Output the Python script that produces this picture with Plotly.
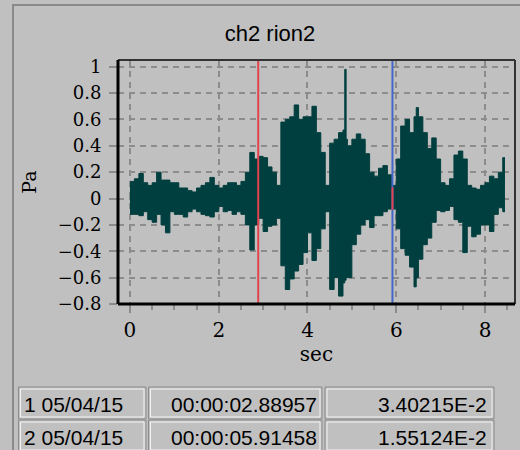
import plotly.graph_objects as go

# ---- data ----
t = [0.0, 0.1, 0.2, 0.3, 0.4, 0.5, 0.6, 0.7, 0.8, 0.9,
     1.0, 1.1, 1.2, 1.3, 1.4, 1.5, 1.6, 1.7, 1.8, 1.9,
     2.0, 2.1, 2.2, 2.3, 2.4, 2.5, 2.6, 2.7, 2.8, 2.9,
     3.0, 3.1, 3.2, 3.3, 3.4, 3.5, 3.6, 3.7, 3.8, 3.9,
     4.0, 4.1, 4.2, 4.3, 4.4, 4.5, 4.6, 4.7, 4.8, 4.84, 4.87,
     4.9, 5.0, 5.1, 5.2, 5.3, 5.4, 5.5, 5.6, 5.7, 5.8, 5.9,
     6.0, 6.1, 6.2, 6.3, 6.4, 6.45,
     6.5, 6.6, 6.7, 6.8, 6.9, 7.0, 7.1, 7.2, 7.3, 7.4, 7.5,
     7.6, 7.7, 7.8, 7.9, 8.0, 8.1, 8.2, 8.3, 8.4, 8.45]

upper = [0.13, 0.15, 0.19, 0.12, 0.10, 0.12, 0.20, 0.14, 0.14, 0.12,
         0.12, 0.08, 0.08, 0.06, 0.05, 0.08, 0.10, 0.12, 0.16, 0.10,
         0.08, 0.10, 0.12, 0.12, 0.10, 0.13, 0.20, 0.35, 0.30, 0.32,
         0.31, 0.24, 0.20, 0.10, 0.58, 0.60, 0.62, 0.71, 0.60, 0.62,
         0.62, 0.70, 0.50, 0.35, 0.10, 0.42, 0.45, 0.50, 0.52, 0.98, 0.45,
         0.40, 0.45, 0.49, 0.45, 0.34, 0.20, 0.17, 0.23, 0.25, 0.18, 0.10,
         0.30, 0.55, 0.60, 0.50, 0.62, 0.69,
         0.62, 0.50, 0.38, 0.46, 0.30, 0.12, 0.10, 0.15, 0.33, 0.36, 0.30,
         0.10, 0.08, 0.07, 0.10, 0.12, 0.17, 0.15, 0.20, 0.31, 0.31]

lower = [-0.12, -0.12, -0.13, -0.10, -0.16, -0.18, -0.12, -0.20, -0.26, -0.10,
         -0.12, -0.12, -0.14, -0.10, -0.08, -0.10, -0.12, -0.13, -0.14, -0.10,
         -0.06, -0.10, -0.09, -0.12, -0.10, -0.12, -0.20, -0.39, -0.20, -0.15,
         -0.25, -0.21, -0.20, -0.15, -0.51, -0.69, -0.61, -0.55, -0.50, -0.41,
         -0.26, -0.47, -0.38, -0.23, -0.10, -0.69, -0.60, -0.74, -0.64, -0.62, -0.60,
         -0.60, -0.35, -0.27, -0.20, -0.16, -0.22, -0.13, -0.13, -0.10, -0.08, -0.08,
         -0.23, -0.38, -0.43, -0.52, -0.67, -0.60,
         -0.46, -0.35, -0.30, -0.18, -0.09, -0.10, -0.09, -0.06, -0.16, -0.18, -0.41,
         -0.21, -0.29, -0.27, -0.20, -0.20, -0.25, -0.12, -0.07, -0.10, -0.10]

y_ticks = [-0.8, -0.6, -0.4, -0.2, 0, 0.2, 0.4, 0.6, 0.8, 1]
y_tick_labels = ["\u22120.8", "\u22120.6", "\u22120.4", "\u22120.2", "0", "0.2", "0.4", "0.6", "0.8", "1"]
x_ticks = [0, 2, 4, 6, 8]

cursor_ids = [1, 2]
cursor_date = ["05/04/15", "05/04/15"]
cursor_times = [2.88957, 5.91458]
cursor_values = [3.40215e-2, 1.55124e-2]
cursor_colors = ["#e2434f", "#4466c8"]

# ---- figure geometry (pixels) ----
W, H = 520, 450
L, R, T, B = 118, 5, 60, 146
PW, PH = W - L - R, H - T - B
BG = "#c0c0c0"
WAVE = "#003f3f"


def px(xp):
    return (xp - L) / PW


def py(yp):
    return (H - B - yp) / PH


fig = go.Figure()
fig.add_trace(go.Scatter(x=t, y=lower, mode="lines", line=dict(color=WAVE, width=1, shape="hv"),
                         hoverinfo="skip", showlegend=False))
fig.add_trace(go.Scatter(x=t, y=upper, mode="lines", line=dict(color=WAVE, width=1, shape="hv"),
                         fill="tonexty", fillcolor=WAVE, hoverinfo="skip", showlegend=False))

shapes = []
for ct, cc in zip(cursor_times, cursor_colors):
    shapes.append(dict(type="line", xref="x", yref="paper", x0=ct, x1=ct, y0=0, y1=1,
                       line=dict(color=cc, width=2)))
# value marker on the second cursor (shown in red in the reference)
shapes.append(dict(type="line", xref="x", yref="y", x0=cursor_times[1], x1=cursor_times[1],
                   y0=cursor_values[1] - 0.1, y1=cursor_values[1] + 0.07,
                   line=dict(color=cursor_colors[0], width=2)))
shapes += [
    dict(type="line", xref="paper", yref="paper", x0=0, x1=1, y0=1, y1=1, line=dict(color="#333333", width=2)),
    dict(type="line", xref="paper", yref="paper", x0=1, x1=1, y0=0, y1=1, line=dict(color="#333333", width=2)),
    dict(type="line", xref="paper", yref="paper", x0=0, x1=0, y0=0, y1=1, line=dict(color="black", width=3)),
    dict(type="line", xref="paper", yref="paper", x0=0, x1=1, y0=0, y1=0, line=dict(color="black", width=3)),
]
shapes += [
    dict(type="line", xref="paper", yref="paper", x0=px(13), x1=px(13), y0=py(4), y1=py(452),
         line=dict(color="#8a8a8a", width=2)),
    dict(type="line", xref="paper", yref="paper", x0=px(12), x1=px(522), y0=py(5), y1=py(5),
         line=dict(color="#8a8a8a", width=2)),
]

annotations = []
cells_x = [(18.5, 146), (148.5, 322), (325, 494)]
rows_y = [(387, 419), (420, 452)]
for i, (y0, y1) in enumerate(rows_y):
    for (x0, x1) in cells_x:
        shapes.append(dict(type="rect", xref="paper", yref="paper", x0=px(x0), x1=px(x1), y0=py(y1), y1=py(y0),
                           line=dict(color="#8c8c8c", width=1), fillcolor=BG, layer="above"))
        shapes.append(dict(type="rect", xref="paper", yref="paper", x0=px(x0 + 2), x1=px(x1 - 2),
                           y0=py(y1 - 2), y1=py(y0 + 2),
                           line=dict(color="#f4f4f4", width=1), layer="above"))
    ycen = py((y0 + y1) / 2 + 1)
    mant, expo = "{:.5E}".format(cursor_values[i]).split("E")
    val_txt = "{}E{}".format(mant, int(expo))
    texts = ["{} {}".format(cursor_ids[i], cursor_date[i]),
             "00:00:{:08.5f}".format(cursor_times[i]),
             val_txt]
    xs = [(px(22), "left"), (px(319), "right"), (px(489), "right")]
    for txt, (xx, anc) in zip(texts, xs):
        annotations.append(dict(text=txt, xref="paper", yref="paper", x=xx, y=ycen, xanchor=anc,
                                yanchor="middle", showarrow=False,
                                font=dict(family="Liberation Sans", size=21, color="black")))

fig.update_layout(
    width=W, height=H,
    margin=dict(l=L, r=R, t=T, b=B),
    paper_bgcolor=BG, plot_bgcolor=BG,
    title=dict(text="ch2 rion2", x=270 / W, xref="container", xanchor="center",
               y=1 - 33 / H, yanchor="middle",
               font=dict(family="Liberation Sans", size=22, color="black")),
    shapes=shapes,
    annotations=annotations,
    xaxis=dict(range=[-0.27, 8.676], tickvals=x_ticks, ticktext=[str(v) for v in x_ticks],
               showgrid=True, gridcolor="#8c8c8c", griddash="6px,5px", gridwidth=1.5,
               zeroline=False, showline=False,
               ticks="outside", ticklen=8, tickwidth=2, tickcolor="#8c8c8c",
               minor=dict(dtick=0.5, tick0=0, ticks="outside", ticklen=5, tickwidth=2,
                          tickcolor="#8c8c8c", showgrid=False),
               tickfont=dict(family="DejaVu Serif", size=20, color="black"),
               title=dict(text="sec", standoff=4, font=dict(family="DejaVu Serif", size=20, color="black"))),
    yaxis=dict(range=[-0.8, 1.051], tickvals=y_ticks, ticktext=y_tick_labels,
               showgrid=True, gridcolor="#8c8c8c", griddash="6px,5px", gridwidth=1.5,
               zeroline=False, showline=False,
               ticks="outside", ticklen=8, tickwidth=2, tickcolor="#8c8c8c",
               ticklabelstandoff=4,
               tickfont=dict(family="DejaVu Serif", size=18, color="black"),
               title=dict(text="Pa", standoff=16, font=dict(family="DejaVu Serif", size=19, color="black"))),
)

fig.write_html("out.html", config={"displayModeBar": False},
               post_script="document.body.style.margin='0';document.body.style.overflow='hidden';"
                           "document.body.style.background='#c0c0c0';")
